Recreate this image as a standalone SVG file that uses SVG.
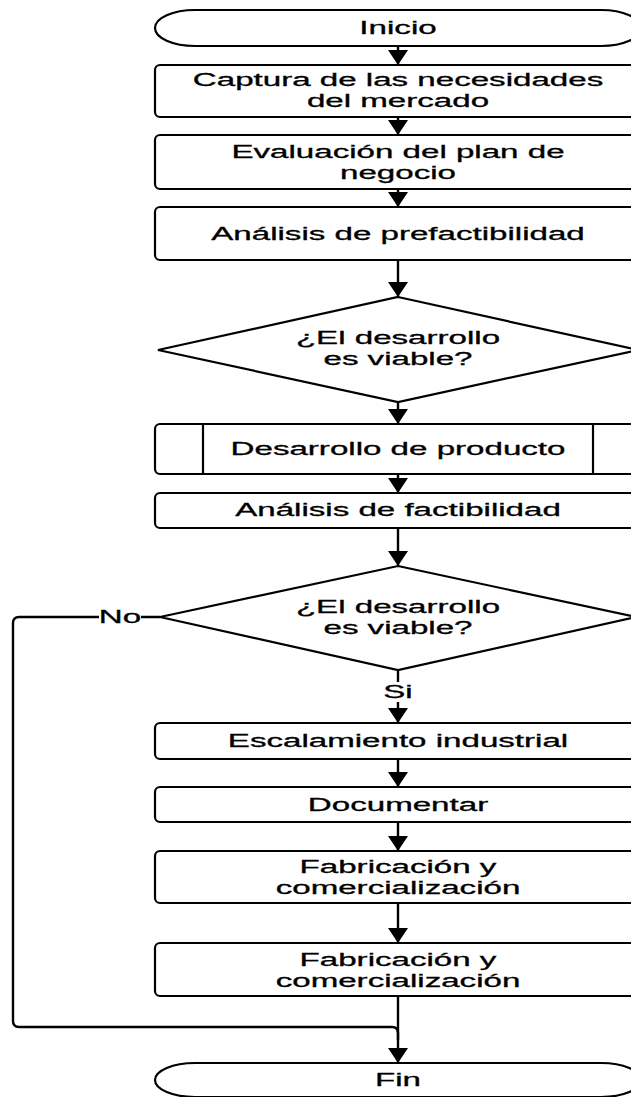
<svg xmlns="http://www.w3.org/2000/svg" width="631" height="1097" viewBox="0 0 631 1097">
<style>
.shape{fill:#fff;stroke:#000;stroke-width:2.2}
.conn{fill:none;stroke:#000;stroke-width:2.4}
.t{font-family:"Liberation Sans",Arial,sans-serif;font-size:18px;fill:#000;stroke:#000;stroke-width:0.3;text-anchor:middle}
.bg{fill:#fff;stroke:none}
</style>
<defs>
<marker id="arr" viewBox="0 0 15 20" markerWidth="15" markerHeight="20" refX="15" refY="10" orient="auto" markerUnits="userSpaceOnUse">
<path d="M0,0 L15,10 L0,20 Z" fill="#000"/>
</marker>
</defs>
<rect width="631" height="1097" fill="#fff"/>
<g id="connectors">
<path class="conn" d="M398,46 V65" marker-end="url(#arr)"/>
<path class="conn" d="M398,117 V135" marker-end="url(#arr)"/>
<path class="conn" d="M398,189 V207" marker-end="url(#arr)"/>
<path class="conn" d="M398,260 V297" marker-end="url(#arr)"/>
<path class="conn" d="M398,402 V424" marker-end="url(#arr)"/>
<path class="conn" d="M398,474 V493" marker-end="url(#arr)"/>
<path class="conn" d="M398,528 V566" marker-end="url(#arr)"/>
<path class="conn" d="M398,670 V723" marker-end="url(#arr)"/>
<path class="conn" d="M398,759 V787" marker-end="url(#arr)"/>
<path class="conn" d="M398,822 V851" marker-end="url(#arr)"/>
<path class="conn" d="M398,903 V943" marker-end="url(#arr)"/>
<path class="conn" d="M398,996 V1063" marker-end="url(#arr)"/>
<path class="conn" d="M160,617 H19 Q13,617 13,623 V1021 Q13,1027 19,1027 H392 Q398,1027 398,1033 V1040"/>
<rect class="bg" x="383" y="682" width="30" height="20"/>
<text class="t" transform="translate(398 698) scale(1.84 1)">Si</text>
<rect class="bg" x="99" y="607" width="42" height="20"/>
<text class="t" transform="translate(120 623) scale(1.84 1)">No</text>
</g>
<g id="inicio">
<rect class="shape" x="155" y="10" width="486" height="36" rx="40" ry="18"/>
<text class="t" transform="translate(398 34) scale(1.84 1)">Inicio</text>
</g>
<g id="captura">
<rect class="shape" x="155" y="65" width="486" height="52" rx="5"/>
<text class="t" transform="translate(398 86) scale(1.84 1)">Captura de las necesidades</text>
<text class="t" transform="translate(398 107) scale(1.84 1)">del mercado</text>
</g>
<g id="evaluacion">
<rect class="shape" x="155" y="135" width="486" height="54" rx="5"/>
<text class="t" transform="translate(398 158) scale(1.84 1)">Evaluación del plan de</text>
<text class="t" transform="translate(398 179) scale(1.84 1)">negocio</text>
</g>
<g id="prefactibilidad">
<rect class="shape" x="155" y="207" width="486" height="53" rx="5"/>
<text class="t" transform="translate(398 240) scale(1.84 1)">Análisis de prefactibilidad</text>
</g>
<g id="decision1">
<polygon class="shape" points="398,297 638,350 398,402 158,350"/>
<text class="t" transform="translate(398 344) scale(1.84 1)">¿El desarrollo</text>
<text class="t" transform="translate(398 365) scale(1.84 1)">es viable?</text>
</g>
<g id="desarrollo">
<rect class="shape" x="155" y="424" width="486" height="50" rx="5"/>
<line class="shape" x1="203" y1="424" x2="203" y2="474"/>
<line class="shape" x1="593" y1="424" x2="593" y2="474"/>
<text class="t" transform="translate(398 455) scale(1.84 1)">Desarrollo de producto</text>
</g>
<g id="factibilidad">
<rect class="shape" x="155" y="493" width="486" height="35" rx="5"/>
<text class="t" transform="translate(398 516) scale(1.84 1)">Análisis de factibilidad</text>
</g>
<g id="decision2">
<polygon class="shape" points="398,566 636,617 398,670 160,617"/>
<text class="t" transform="translate(398 613) scale(1.84 1)">¿El desarrollo</text>
<text class="t" transform="translate(398 634) scale(1.84 1)">es viable?</text>
</g>
<g id="escalamiento">
<rect class="shape" x="155" y="723" width="486" height="36" rx="5"/>
<text class="t" transform="translate(398 747) scale(1.84 1)">Escalamiento industrial</text>
</g>
<g id="documentar">
<rect class="shape" x="155" y="787" width="486" height="35" rx="5"/>
<text class="t" transform="translate(398 811) scale(1.84 1)">Documentar</text>
</g>
<g id="fabricacion1">
<rect class="shape" x="155" y="851" width="486" height="52" rx="5"/>
<text class="t" transform="translate(398 873) scale(1.84 1)">Fabricación y</text>
<text class="t" transform="translate(398 894) scale(1.84 1)">comercialización</text>
</g>
<g id="fabricacion2">
<rect class="shape" x="155" y="943" width="486" height="53" rx="5"/>
<text class="t" transform="translate(398 966) scale(1.84 1)">Fabricación y</text>
<text class="t" transform="translate(398 987) scale(1.84 1)">comercialización</text>
</g>
<g id="fin">
<rect class="shape" x="155" y="1063" width="486" height="34" rx="40" ry="17"/>
<text class="t" transform="translate(398 1086) scale(1.84 1)">Fin</text>
</g>
</svg>
